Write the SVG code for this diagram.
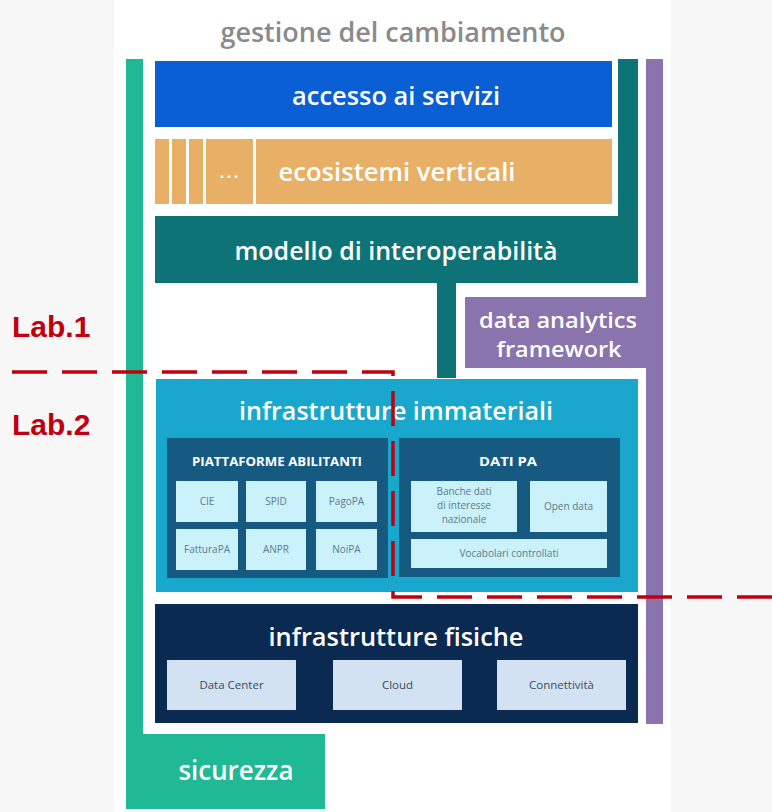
<svg xmlns="http://www.w3.org/2000/svg" width="772" height="812" viewBox="0 0 772 812">
<style>
.big{font-family:"Open Sans","Liberation Sans",sans-serif;font-weight:600;fill:#ffffff;text-anchor:middle}
.hdr{font-family:"Open Sans","Liberation Sans",sans-serif;font-weight:700;fill:#ffffff;text-anchor:middle;font-size:12.5px}
.cell{fill:#cbf2fb}
.ct{font-family:"Open Sans","Liberation Sans",sans-serif;fill:#5a7c8c;text-anchor:middle;font-size:10px}
.fcell{fill:#d3e2f2}
.ft{font-family:"Open Sans","Liberation Sans",sans-serif;fill:#3a4a62;text-anchor:middle;font-size:11.5px}
.lab{font-family:"Liberation Sans",Arial,sans-serif;font-weight:700;fill:#c0000f;font-size:30px}
</style>
<rect x="0" y="0" width="772" height="812" fill="#f7f7f7"/>
<rect x="114" y="0" width="557" height="812" fill="#ffffff"/>

<g id="gestione">
<text x="393" y="42" font-family="Open Sans, Liberation Sans, sans-serif" font-weight="600" font-size="27" fill="#8a8a8a" text-anchor="middle" textLength="345" lengthAdjust="spacingAndGlyphs">gestione del cambiamento</text>
</g>

<g id="sicurezza">
<path d="M126,59 H143 V734 H325 V809 H126 Z" fill="#20b995"/>
<text class="big" x="236" y="780" font-size="27" textLength="115" lengthAdjust="spacingAndGlyphs">sicurezza</text>
</g>

<g id="accesso">
<rect x="155" y="61" width="457" height="66" fill="#0b5fd4"/>
<text class="big" x="396" y="105" font-size="25" textLength="208" lengthAdjust="spacingAndGlyphs">accesso ai servizi</text>
</g>

<g id="ecosistemi">
<rect x="155" y="139" width="457" height="65" fill="#e8b066"/>
<g fill="#ffffff">
<rect x="169" y="139" width="3" height="65"/>
<rect x="186" y="139" width="3" height="65"/>
<rect x="203" y="139" width="3" height="65"/>
<rect x="253" y="139" width="3" height="65"/>
</g>
<text class="big" x="230" y="178" font-size="18" letter-spacing="2">...</text>
<text class="big" x="397" y="181" font-size="25" textLength="237" lengthAdjust="spacingAndGlyphs">ecosistemi verticali</text>
</g>

<g id="modello">
<path d="M618,59 H638 V283 H456 V378 H437 V283 H155 V216 H618 Z" fill="#0d7377"/>
<text class="big" x="396" y="260" font-size="25" textLength="323" lengthAdjust="spacingAndGlyphs">modello di interoperabilità</text>
</g>

<g id="data-analytics">
<path d="M646,59 H663 V724 H646 V368 H465 V297 H646 Z" fill="#8a74ae"/>
<text class="big" x="558" y="328" font-size="22" textLength="158" lengthAdjust="spacingAndGlyphs">data analytics</text>
<text class="big" x="559" y="357" font-size="22" textLength="125" lengthAdjust="spacingAndGlyphs">framework</text>
</g>

<g id="infrastrutture-immateriali">
<rect x="156" y="379" width="482" height="213" fill="#19a7cd"/>
<text class="big" x="396" y="420" font-size="26" textLength="314" lengthAdjust="spacingAndGlyphs">infrastrutture immateriali</text>
</g>

<g id="piattaforme">
<rect x="167" y="438" width="221" height="140" fill="#165a82"/>
<text class="hdr" x="277" y="466" textLength="170" lengthAdjust="spacingAndGlyphs">PIATTAFORME ABILITANTI</text>
<rect class="cell" x="176" y="481" width="62" height="41"/>
<rect class="cell" x="246" y="481" width="60" height="41"/>
<rect class="cell" x="316" y="481" width="61" height="41"/>
<rect class="cell" x="176" y="529" width="62" height="41"/>
<rect class="cell" x="246" y="529" width="60" height="41"/>
<rect class="cell" x="316" y="529" width="61" height="41"/>
<text class="ct" x="207" y="505">CIE</text>
<text class="ct" x="276" y="505">SPID</text>
<text class="ct" x="346.5" y="505">PagoPA</text>
<text class="ct" x="207" y="553">FatturaPA</text>
<text class="ct" x="276" y="553">ANPR</text>
<text class="ct" x="346.5" y="553">NoiPA</text>
</g>

<g id="dati-pa">
<rect x="399" y="438" width="221" height="139" fill="#165a82"/>
<text class="hdr" x="508" y="466" textLength="58" lengthAdjust="spacingAndGlyphs">DATI PA</text>
<rect class="cell" x="411" y="481" width="106" height="51"/>
<rect class="cell" x="530" y="481" width="77" height="51"/>
<rect class="cell" x="411" y="539" width="196" height="29"/>
<text class="ct" x="464" y="495">Banche dati</text>
<text class="ct" x="464" y="509">di interesse</text>
<text class="ct" x="464" y="523">nazionale</text>
<text class="ct" x="568.5" y="510">Open data</text>
<text class="ct" x="509" y="557">Vocabolari controllati</text>
</g>

<g id="infrastrutture-fisiche">
<rect x="155" y="604" width="483" height="119" fill="#0b2a52"/>
<text class="big" x="396" y="646" font-size="26" textLength="255" lengthAdjust="spacingAndGlyphs">infrastrutture fisiche</text>
<rect class="fcell" x="167" y="660" width="129" height="50"/>
<rect class="fcell" x="333" y="660" width="129" height="50"/>
<rect class="fcell" x="497" y="660" width="129" height="50"/>
<text class="ft" x="231.5" y="689">Data Center</text>
<text class="ft" x="397.5" y="689">Cloud</text>
<text class="ft" x="561.5" y="689">Connettività</text>
</g>

<g id="labs">
<text class="lab" x="12" y="337">Lab.1</text>
<text class="lab" x="12" y="435">Lab.2</text>
</g>

<g id="connectors">
<path d="M12,372 H393 V597 H772" fill="none" stroke="#c0000f" stroke-width="3.5" stroke-dasharray="35 15"/>
</g>
</svg>
